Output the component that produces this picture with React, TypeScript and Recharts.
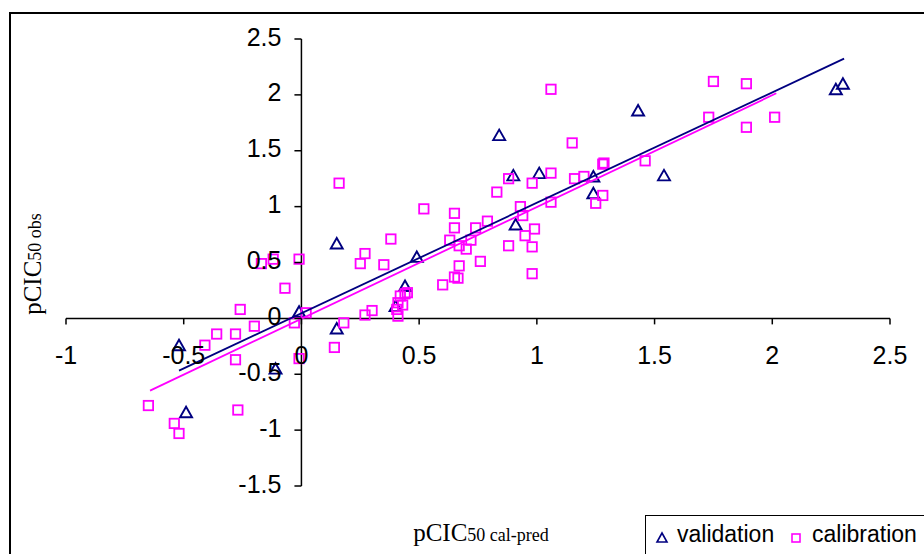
import React from 'react';
import { ScatterChart, Scatter, XAxis, YAxis, ReferenceLine, Legend, Customized } from 'recharts';

// ---------- data ----------
const validationPoints: [number, number][] = [
  [-0.52, -0.24], [-0.11, -0.45], [-0.49, -0.84], [-0.01, 0.06], [0.15, 0.67],
  [0.49, 0.55], [0.15, -0.09], [0.44, 0.29], [0.40, 0.11], [0.90, 1.28],
  [1.01, 1.30], [0.91, 0.84], [0.84, 1.64], [1.43, 1.86], [1.24, 1.27],
  [1.54, 1.28], [1.24, 1.12], [2.27, 2.05], [2.30, 2.10],
];

const calibrationPoints: [number, number][] = [
  [-0.17, 0.49], [-0.12, 0.53], [-0.01, 0.53], [-0.07, 0.27], [-0.26, 0.08],
  [-0.20, -0.07], [-0.03, -0.04], [-0.28, -0.14], [-0.36, -0.14], [-0.41, -0.24],
  [-0.28, -0.37], [-0.01, -0.36], [-0.65, -0.78], [-0.27, -0.82], [-0.54, -0.94],
  [-0.52, -1.03], [0.02, 0.05], [0.16, 1.21], [0.52, 0.98], [0.38, 0.71],
  [0.27, 0.58], [0.25, 0.49], [0.35, 0.48], [0.18, -0.04], [0.27, 0.03],
  [0.30, 0.07], [0.41, 0.02], [0.405, 0.08], [0.41, 0.14], [0.43, 0.12],
  [0.42, 0.20], [0.44, 0.22], [0.45, 0.23], [0.14, -0.26], [0.60, 0.30],
  [0.65, 0.94], [0.65, 0.81], [0.83, 1.13], [0.88, 1.25], [0.98, 1.21],
  [1.06, 1.30], [0.93, 1.00], [0.94, 0.92], [1.06, 1.04], [0.79, 0.87],
  [0.74, 0.81], [0.63, 0.70], [0.72, 0.70], [0.67, 0.65], [0.70, 0.62],
  [0.99, 0.80], [0.95, 0.74], [0.88, 0.65], [0.98, 0.64], [0.76, 0.51],
  [0.67, 0.47], [0.65, 0.37], [0.665, 0.36], [0.98, 0.40], [1.06, 2.05],
  [1.15, 1.57], [1.16, 1.25], [1.20, 1.27], [1.28, 1.38], [1.285, 1.39],
  [1.46, 1.41], [1.28, 1.10], [1.25, 1.03], [1.75, 2.12], [1.89, 2.10],
  [1.73, 1.80], [1.89, 1.71], [2.01, 1.80],
];

// trend line end points
const validationFitX = [-0.52, 2.305];
const validationFitY = [-0.468, 2.324];
const calibrationFitX = [-0.643, 2.017];
const calibrationFitY = [-0.647, 2.014];

const xTicks = [-1, -0.5, 0, 0.5, 1, 1.5, 2, 2.5];
const yTicks = [-1.5, -1, -0.5, 0, 0.5, 1, 1.5, 2, 2.5];

const seriesNames = ['validation', 'calibration'];

// ---------- layout ----------
const W = 924;
const H = 554;
const X_AXIS_H = 30;
const Y_AXIS_W = 30;
const PLOT = { top: 39, right: 34, bottom: 68, left: 66 };
const M = { top: PLOT.top, right: PLOT.right, bottom: PLOT.bottom - X_AXIS_H, left: PLOT.left - Y_AXIS_W };
const X_MIN = -1, X_MAX = 2.5, Y_MIN = -1.5, Y_MAX = 2.5;
const PLOT_W = W - PLOT.left - PLOT.right;
const PLOT_H = H - PLOT.top - PLOT.bottom;
const X0 = PLOT.left + (PLOT_W * (0 - X_MIN)) / (X_MAX - X_MIN);
const Y0 = PLOT.top + (PLOT_H * (Y_MAX - 0)) / (Y_MAX - Y_MIN);

const NAVY = '#000080';
const MAGENTA = '#FF00FF';
const SANS = "'Liberation Sans', Arial, sans-serif";
const SERIF = "'Liberation Serif', 'Times New Roman', serif";

const toObjs = (pts: [number, number][]) => pts.map(([x, y]) => ({ x, y }));
const zipObjs = (xs: number[], ys: number[]) => xs.map((x, i) => ({ x, y: ys[i] }));

const validationData = toObjs(validationPoints);
const calibrationData = toObjs(calibrationPoints);
const validationFit = zipObjs(validationFitX, validationFitY);
const calibrationFit = zipObjs(calibrationFitX, calibrationFitY);

const Triangle = (props: any) => {
  const { cx, cy } = props;
  if (cx == null || cy == null) return <g />;
  return (
    <path
      d={`M${cx - 6},${cy + 5} L${cx + 6},${cy + 5} L${cx},${cy - 5.5} Z`}
      fill="none"
      stroke={NAVY}
      strokeWidth={1.9}
    />
  );
};

const Square = (props: any) => {
  const { cx, cy } = props;
  if (cx == null || cy == null) return <g />;
  return <rect x={cx - 4.7} y={cy - 4.7} width={9.4} height={9.4} fill="none" stroke={MAGENTA} strokeWidth={1.8} />;
};

const Empty = () => <g />;

const XTick = (props: any) => {
  const { x, payload } = props;
  return (
    <g>
      <line x1={x} x2={x} y1={Y0} y2={Y0 + 6} stroke="#000" strokeWidth={1.5} />
      <text x={x} y={Y0 + 46} textAnchor="middle" fontFamily={SANS} fontSize={25} fill="#000">
        {String(payload.value)}
      </text>
    </g>
  );
};

const YTick = (props: any) => {
  const { y, payload } = props;
  return (
    <g>
      <line x1={X0 - 7} x2={X0} y1={y} y2={y} stroke="#000" strokeWidth={1.5} />
      <text x={X0 - 20} y={y + 6.5} textAnchor="end" fontFamily={SANS} fontSize={25} fill="#000">
        {String(payload.value)}
      </text>
    </g>
  );
};

const Decorations = () => (
  <g>
    <rect x={10} y={13} width={2000} height={2000} fill="none" stroke="#000" strokeWidth={2} />
    <text x={481} y={541} textAnchor="middle" fontFamily={SERIF} fill="#000">
      <tspan fontSize={25}>pCIC</tspan>
      <tspan fontSize={18}>50 cal-pred</tspan>
    </text>
    <text
      x={41}
      y={264}
      transform="rotate(-90, 41, 264)"
      textAnchor="middle"
      fontFamily={SERIF}
      fill="#000"
    >
      <tspan fontSize={25}>pCIC</tspan>
      <tspan fontSize={18}>50 obs</tspan>
    </text>
  </g>
);

const LegendContent = (props: any) => {
  const all = props.payload || [];
  const payload = seriesNames
    .map((n) => all.find((p: any) => p.value === n))
    .filter(Boolean);
  return (
    <svg width={300} height={60} style={{ display: 'block' }}>
      <rect x={0.5} y={0.5} width={400} height={100} fill="#fff" stroke="#000" strokeWidth={1} />
      {payload.map((p: any, i: number) => {
        const mx = i === 0 ? 17 : 151;
        const tx = i === 0 ? 32 : 167;
        return (
          <g key={p.value}>
            {p.value === 'validation' ? (
              <path d={`M${mx - 5},${27} L${mx + 5},${27} L${mx},${18} Z`} fill="none" stroke={NAVY} strokeWidth={1.6} />
            ) : (
              <rect x={mx - 4} y={19} width={8} height={8} fill="none" stroke={MAGENTA} strokeWidth={1.6} />
            )}
            <text x={tx} y={27} fontFamily={SANS} fontSize={23} fill="#000">
              {p.value}
            </text>
          </g>
        );
      })}
    </svg>
  );
};

export default function App() {
  return (
    <div style={{ position: 'absolute', left: 0, top: 0, width: W, height: H, overflow: 'hidden', background: '#fff' }}>
      <ScatterChart width={W} height={H} margin={M}>
        <XAxis
          type="number"
          dataKey="x"
          domain={[X_MIN, X_MAX]}
          ticks={xTicks}
          interval={0}
          height={X_AXIS_H}
          axisLine={false}
          tickLine={false}
          tick={<XTick />}
          allowDataOverflow
        />
        <YAxis
          type="number"
          dataKey="y"
          domain={[Y_MIN, Y_MAX]}
          ticks={yTicks}
          interval={0}
          width={Y_AXIS_W}
          axisLine={false}
          tickLine={false}
          tick={<YTick />}
          allowDataOverflow
        />
        <ReferenceLine y={0} stroke="#000" strokeWidth={1.5} />
        <ReferenceLine x={0} stroke="#000" strokeWidth={1.5} />
        <Scatter name="validation" data={validationData} shape={<Triangle />} legendType="triangle" fill={NAVY} isAnimationActive={false} />
        <Scatter name="calibration" data={calibrationData} shape={<Square />} legendType="square" fill={MAGENTA} isAnimationActive={false} />
        <Scatter
          name="validation fit"
          data={validationFit}
          shape={<Empty />}
          line={{ stroke: NAVY, strokeWidth: 1.8 }}
          legendType="none"
          fill={NAVY}
          isAnimationActive={false}
        />
        <Scatter
          name="calibration fit"
          data={calibrationFit}
          shape={<Empty />}
          line={{ stroke: MAGENTA, strokeWidth: 1.8 }}
          legendType="none"
          fill={MAGENTA}
          isAnimationActive={false}
        />
        <Customized component={<Decorations />} />
        <Legend
          layout="horizontal"
          verticalAlign="middle"
          align="center"
          content={<LegendContent />}
          wrapperStyle={{ left: 645, top: 515, width: 300, height: 60 }}
        />
      </ScatterChart>
    </div>
  );
}
